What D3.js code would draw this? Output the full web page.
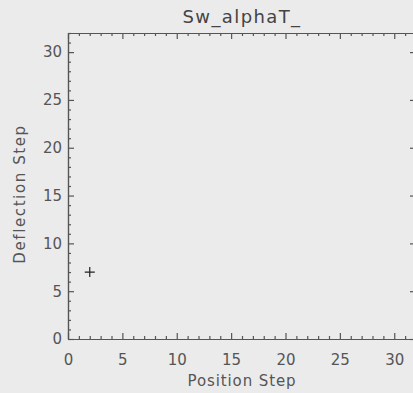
<!DOCTYPE html>
<html><head><meta charset="utf-8">
<script src="https://cdn.jsdelivr.net/npm/d3@7"></script>
<style>body{margin:0;background:#ebebeb;} svg{display:block;}</style>
</head><body>
<script>
const title = "Sw_alphaT_";
const xLabel = "Position Step";
const yLabel = "Deflection Step";
const xTicks = [0, 5, 10, 15, 20, 25, 30];
const yTicks = [0, 5, 10, 15, 20, 25, 30];
const pointX = [2];
const pointY = [7];

const W = 413, H = 393;
const m = {left: 68, right: -3, top: 33, bottom: 54};
const svg = d3.select("body").append("svg").attr("width", W).attr("height", H);
svg.append("rect").attr("width", W).attr("height", H).attr("fill", "#ebebeb");
const x = d3.scaleLinear().domain([0, 32]).range([m.left, W - m.right]);
const y = d3.scaleLinear().domain([0, 32]).range([H - m.bottom, m.top]);
const col = "#555";
const font = "DejaVu Sans, sans-serif";
const minor = d3.range(0, 33, 1).filter(v => v % 5);

function styleAxis(g) {
  g.selectAll("path").attr("stroke", col).attr("stroke-width", 1.2);
  g.selectAll("line").attr("stroke", col).attr("stroke-width", 1.2);
  g.selectAll("text").attr("fill", col).attr("font-family", font).attr("font-size", 15);
}
// bottom
svg.append("g").attr("transform", `translate(0,${y(0)})`)
  .call(d3.axisBottom(x).tickValues(xTicks).tickSize(-6).tickPadding(15).tickSizeOuter(0)).call(styleAxis);
svg.append("g").attr("transform", `translate(0,${y(0)})`)
  .call(d3.axisBottom(x).tickValues(minor).tickSize(-3).tickFormat("").tickSizeOuter(0)).call(styleAxis);
// top
svg.append("g").attr("transform", `translate(0,${y(32)})`)
  .call(d3.axisTop(x).tickValues(xTicks).tickSize(-6).tickFormat("").tickSizeOuter(0)).call(styleAxis);
svg.append("g").attr("transform", `translate(0,${y(32)})`)
  .call(d3.axisTop(x).tickValues(minor).tickSize(-3).tickFormat("").tickSizeOuter(0)).call(styleAxis);
// left
svg.append("g").attr("transform", `translate(${x(0)},0)`)
  .call(d3.axisLeft(y).tickValues(yTicks).tickSize(-6).tickPadding(6).tickSizeOuter(0)).call(styleAxis);
svg.append("g").attr("transform", `translate(${x(0)},0)`)
  .call(d3.axisLeft(y).tickValues(minor).tickSize(-3).tickFormat("").tickSizeOuter(0)).call(styleAxis);
// right
svg.append("g").attr("transform", `translate(${x(32)},0)`)
  .call(d3.axisRight(y).tickValues(yTicks).tickSize(-6).tickFormat("").tickSizeOuter(0)).call(styleAxis);
svg.append("g").attr("transform", `translate(${x(32)},0)`)
  .call(d3.axisRight(y).tickValues(minor).tickSize(-3).tickFormat("").tickSizeOuter(0)).call(styleAxis);

// title & labels
svg.append("text").attr("x", 242).attr("y", 23).attr("text-anchor", "middle")
  .attr("fill", "#444").attr("font-family", font).attr("font-size", 18).attr("letter-spacing", 1.4).text(title);
svg.append("text").attr("x", 242).attr("y", 386).attr("text-anchor", "middle")
  .attr("fill", col).attr("font-family", font).attr("font-size", 15).attr("letter-spacing", 0.9).text(xLabel);
svg.append("text").attr("transform", `translate(25,194) rotate(-90)`).attr("text-anchor", "middle")
  .attr("fill", col).attr("font-family", font).attr("font-size", 15).attr("letter-spacing", 1.6).text(yLabel);

// point (plus symbol)
const s = 5;
svg.selectAll(".plus").data(pointX.map((v, i) => [v, pointY[i]])).enter().append("path")
  .attr("class", "plus")
  .attr("d", d => `M${x(d[0]) - s},${y(d[1])}H${x(d[0]) + s}M${x(d[0])},${y(d[1]) - s}V${y(d[1]) + s}`)
  .attr("stroke", "#222").attr("stroke-width", 1.2).attr("fill", "none");
</script>
</body></html>
